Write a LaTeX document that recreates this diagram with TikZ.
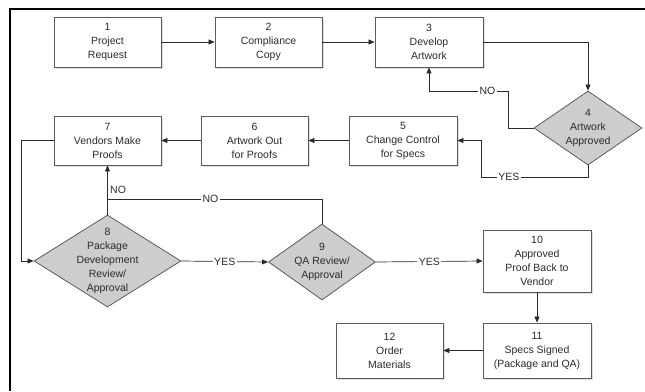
\documentclass[tikz,border=0pt]{standalone}
\usepackage{fontspec}
\setmainfont{Liberation Sans}
\usetikzlibrary{shapes.geometric,arrows.meta,shadows}
\definecolor{ink}{HTML}{2B2B2B}
\definecolor{edge}{HTML}{5A5A5A}
\definecolor{decfill}{HTML}{CDCDCD}
\begin{document}
\begin{tikzpicture}[x=1pt,y=-1pt,
  every node/.style={font=\fontsize{10.5}{14}\selectfont, text=ink},
  stepbox/.style={draw=edge, line width=0.8pt, fill=white, rectangle, inner sep=0pt,
    align=center, minimum width=107pt,
    drop shadow={shadow xshift=1.5pt, shadow yshift=-1.5pt, fill=black!18, opacity=0.7}},
  decision/.style={draw=edge, line width=0.8pt, fill=decfill, diamond, inner sep=0pt,
    shape aspect=1},
  conn/.style={draw=ink, line width=0.7pt},
  arr/.style={conn, -{Triangle[length=6pt,width=5pt]}},
  lbl/.style={fill=white, inner sep=1.5pt}
]
\useasboundingbox (0,0) rectangle (645,391);

% outer frame (left and top edges)
\draw[line width=2.4pt, black] (10,391) -- (10,9) -- (645,9);

% row 1
\node[stepbox, minimum height=50pt] (b1) at (107.5,42) {1\\Project\\Request};
\node[stepbox, minimum height=50pt] (b2) at (268.5,42) {2\\Compliance\\Copy};
\node[stepbox, minimum height=50pt, minimum width=108pt] (b3) at (429,42) {3\\Develop\\Artwork};

% artwork approval
\node[decision, minimum width=108pt, minimum height=74pt,
  label={[align=center]center:4\\Artwork\\Approved}] (d4) at (588,128) {};

% row 2
\node[stepbox, minimum height=49pt, minimum width=108pt] (b5) at (403,140.5) {5\\Change Control\\for Specs};
\node[stepbox, minimum height=49pt] (b6) at (254.5,140.5) {6\\Artwork Out\\for Proofs};
\node[stepbox, minimum height=49pt] (b7) at (107.5,140.5) {7\\Vendors Make\\Proofs};

% reviews
\node[decision, minimum width=147pt, minimum height=92pt,
  label={[align=center]center:8\\Package\\Development\\Review/\\Approval}] (d8) at (107.5,261) {};
\node[decision, minimum width=107pt, minimum height=76pt,
  label={[align=center]center:9\\QA Review/\\Approval}] (d9) at (322,262) {};
\node[stepbox, minimum height=62pt, minimum width=108pt] (b10) at (537,261) {10\\Approved\\Proof Back to\\Vendor};

% row 4
\node[stepbox, minimum height=55pt, minimum width=108pt] (b11) at (537,350.5) {11\\Specs Signed\\(Package and QA)};
\node[stepbox, minimum height=55pt] (b12) at (389.5,350.5) {12\\Order\\Materials};

% helper coordinates for routed connectors
\coordinate (n4) at (508,91);
\coordinate (n3) at (429,91);
\coordinate (y4) at (481,177);
\coordinate (lp) at (21,261);
\coordinate (j8) at (107.5,199);

% connectors
\draw[arr] (b1) -- (b2);
\draw[arr] (b2) -- (b3);
\draw[arr] (b3.east) -| (d4.north);
\draw[conn] (d4.west) -| (n4);
\draw[arr] (n4) -- node[lbl, pos=0.26] {NO} (n3) -- (b3.south);
\draw[conn] (d4.south) |- node[lbl, pos=0.87] {YES} (y4);
\draw[arr] (y4) |- (b5.east);
\draw[arr] (b5) -- (b6);
\draw[arr] (b6) -- (b7);
\draw[arr] (b7.west) -| (lp) -- (d8.west);
\draw[arr] (d8.north) -- node[right, pos=0.5, xshift=-1pt] {NO} (b7.south);
\draw[conn] (d9.north) |- node[lbl, pos=0.76] {NO} (j8);
\draw[arr] (d8.east) -- node[lbl] {YES} (d9.west);
\draw[arr] (d9.east) -- node[lbl] {YES} (b10.west);
\draw[arr] (b10) -- (b11);
\draw[arr] (b11) -- (b12);
\end{tikzpicture}
\end{document}
